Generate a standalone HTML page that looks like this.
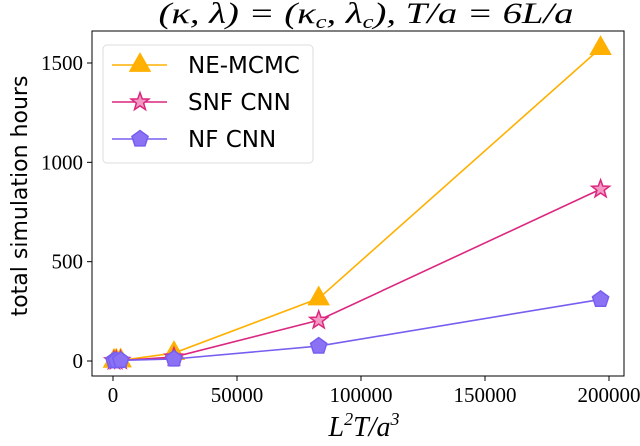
<!DOCTYPE html>
<html><head><meta charset="utf-8"><style>
html,body{margin:0;padding:0;background:#fff;}
svg{display:block;}
text{font-family:"Liberation Serif",serif;fill:#000;}
.sans{font-family:"DejaVu Sans","Liberation Sans",sans-serif;}
</style></head><body>
<svg id="chart" width="640" height="446" viewBox="0 0 640 446">
<g id="axes"></g>
<g id="series"></g>
<text x="366" y="23" font-size="30" text-anchor="middle" font-style="italic" textLength="415" lengthAdjust="spacingAndGlyphs">(κ, λ) = (κ<tspan font-size="19" dy="5">c</tspan><tspan dy="-5">, λ</tspan><tspan font-size="19" dy="5">c</tspan><tspan dy="-5">), T/a = 6L/a</tspan></text>
<text x="364" y="436" font-size="28" text-anchor="middle" font-style="italic">L<tspan font-size="18" dy="-11">2</tspan><tspan dy="11">T/a</tspan><tspan font-size="18" dy="-11">3</tspan></text>
<text class="sans" transform="translate(27,196) rotate(-90)" font-size="22" text-anchor="middle">total simulation hours</text>
<g id="legend"></g>
</svg>
<script>
const xValues=[384,1296,3072,24576,82944,196608];
const neMcmc=[1,2,3,40,315,1575];
const snfCnn=[1,2,3,20,205,865];
const nfCnn=[1,2,3,10,75,310];
const xTicks=[0,50000,100000,150000,200000];
const yTicks=[0,500,1000,1500];
const seriesNames=["NE-MCMC","SNF CNN","NF CNN"];
const NS="http://www.w3.org/2000/svg";
const L=92,R=624,T=31,B=376;
const sx=v=>113+v*(609-113)/200000;
const sy=v=>361-v*(361-63)/1500;
function mk(tag,a,p){const e=document.createElementNS(NS,tag);for(const k in a)e.setAttribute(k,a[k]);p.appendChild(e);return e;}
const ax=document.getElementById('axes');
let fr=mk('rect',{x:L,y:T,width:R-L,height:B-T,fill:'none',stroke:'#000','stroke-width':1},ax);


xTicks.forEach(v=>{
 let l=mk('line',{x1:sx(v),x2:sx(v),y1:B,y2:B+5,stroke:'#000'},ax);
 
 
 let t=mk('text',{x:sx(v),y:B+26,'font-size':21,'text-anchor':'middle'},ax);t.textContent=v;
 
 
});
yTicks.forEach(v=>{
 let l=mk('line',{x1:L-5,x2:L,y1:sy(v),y2:sy(v),stroke:'#000'},ax);
 
 
 let t=mk('text',{x:L-9,y:sy(v)+7,'font-size':21,'text-anchor':'end'},ax);t.textContent=v;
 
 
});
function marker(kind,x,y,col,fill,p,s){
 let pts=[];
 if(kind==='tri'){pts=[[0,-1.2],[1.05,0.65],[-1.05,0.65]];}
 else if(kind==='star'){for(let i=0;i<10;i++){const r=i%2?0.45:1.1,a=-Math.PI/2+i*Math.PI/5;pts.push([r*Math.cos(a),r*Math.sin(a)]);}}
 else {for(let i=0;i<5;i++){const a=-Math.PI/2+i*2*Math.PI/5;pts.push([Math.cos(a),Math.sin(a)]);}}
 return mk('polygon',{points:pts.map(q=>(x+q[0]*s)+','+(y+q[1]*s)).join(' '),fill:fill,stroke:col,'stroke-width':1.5},p);
}
const defs=[[neMcmc,'#FFB000','#FFB000','tri',9.5],[snfCnn,'#DC267F','#F29AC3','star',8.5],[nfCnn,'#785EF0','#8B72F5','pent',8.5]];
const sg=document.getElementById('series');
defs.forEach((d,i)=>{
 const g=mk('g',{},sg);
 
 
 let pl=mk('polyline',{points:xValues.map((x,j)=>sx(x)+','+sy(d[0][j])).join(' '),fill:'none',stroke:d[1],'stroke-width':1.6},g);
 
 
 xValues.forEach((x,j)=>{
  let m=marker(d[3],sx(x),sy(d[0][j]),d[1],d[2],g,d[4]);
  
  
 });
});
const lg=document.getElementById('legend');
let box=mk('rect',{x:103,y:45,width:210,height:118,rx:4,fill:'#fff',stroke:'#ddd'},lg);


defs.forEach((d,i)=>{
 const y=65+i*37;
 const g=mk('g',{},lg);
 
 
 mk('line',{x1:112,x2:167,y1:y,y2:y,stroke:d[1],'stroke-width':1.6},g);
 marker(d[3],140,y,d[1],d[2],g,d[4]);
 let t=mk('text',{x:188,y:y+8,'font-size':23,class:'sans'},g);t.textContent=seriesNames[i];
});
</script>
</body></html>
